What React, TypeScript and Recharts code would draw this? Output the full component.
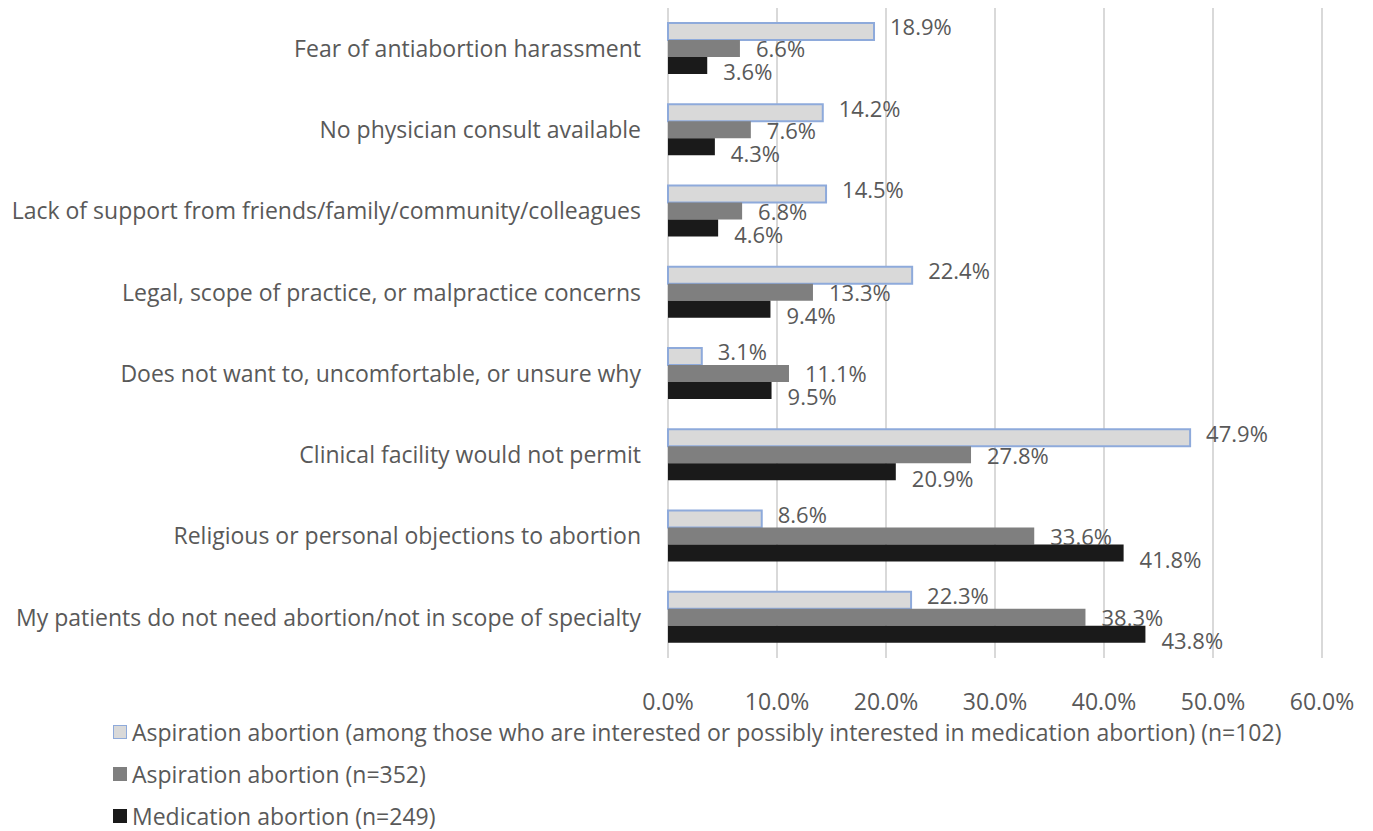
import { BarChart, Bar, XAxis, YAxis, CartesianGrid, Legend, LabelList } from 'recharts'

const categories = [
  'Fear of antiabortion harassment',
  'No physician consult available',
  'Lack of support from friends/family/community/colleagues',
  'Legal, scope of practice, or malpractice concerns',
  'Does not want to, uncomfortable, or unsure why ',
  'Clinical facility would not permit',
  'Religious or personal objections to abortion',
  'My patients do not need abortion/not in scope of specialty',
]

const aspirationInterested = [18.9, 14.2, 14.5, 22.4, 3.1, 47.9, 8.6, 22.3]
const aspiration = [6.6, 7.6, 6.8, 13.3, 11.1, 27.8, 33.6, 38.3]
const medication = [3.6, 4.3, 4.6, 9.4, 9.5, 20.9, 41.8, 43.8]

const xTicks = [0, 10, 20, 30, 40, 50, 60]

const seriesNames = [
  'Aspiration abortion (among those who are interested or possibly interested in medication abortion) (n=102)',
  'Aspiration abortion (n=352)',
  'Medication abortion (n=249)',
]

const data = categories.map((name, i) => ({
  name,
  a: aspirationInterested[i],
  b: aspiration[i],
  c: medication[i],
}))

const FONT = "'Open Sans', sans-serif"
const TEXT = '#595959'
const FS = 23

const swatches = [
  { fill: '#d9d9d9', stroke: '#8eaadb' },
  { fill: '#7f7f7f', stroke: '#7f7f7f' },
  { fill: '#1a1a1a', stroke: '#1a1a1a' },
]

function LegendBox() {
  return (
    <div style={{ height: 120, paddingLeft: 105, paddingTop: 8, fontFamily: FONT, fontSize: FS, color: TEXT }}>
      {seriesNames.map((s, i) => (
        <div key={s} style={{ display: 'flex', alignItems: 'center', height: 42, whiteSpace: 'nowrap' }}>
          <span
            style={{
              display: 'inline-block',
              width: 12,
              height: 12,
              background: swatches[i].fill,
              border: `1.5px solid ${swatches[i].stroke}`,
              marginRight: 5,
            }}
          />
          {s}
        </div>
      ))}
    </div>
  )
}

const pct = (v: number) => `${v.toFixed(1)}%`
const labelBase = { position: 'right' as const, offset: 16, fill: TEXT, fontSize: FS - 1, fontFamily: FONT, formatter: pct }

export default function App() {
  return (
    <BarChart
      width={1357}
      height={823}
      data={data}
      layout="vertical"
      margin={{ top: 0, right: 43, left: 0, bottom: 0 }}
      barGap={0}
      barSize={17}
    >
      <CartesianGrid horizontal={false} stroke="#d9d9d9" strokeWidth={2} />
      <XAxis
        type="number"
        domain={[0, 60]}
        ticks={xTicks}
        tickFormatter={pct}
        axisLine={false}
        tickLine={false}
        height={45}
        tick={{ fill: TEXT, fontSize: FS, fontFamily: FONT }}
        tickMargin={30}
      />
      <YAxis
        type="category"
        dataKey="name"
        width={660}
        axisLine={false}
        tickLine={false}
        tickSize={0}
        tickMargin={27}
        tick={{ fill: TEXT, fontSize: FS, fontFamily: FONT }}
        interval={0}
      />
      <Legend verticalAlign="bottom" content={() => <LegendBox />} />
      <Bar dataKey="a" fill="#d9d9d9" stroke="#8eaadb" strokeWidth={2} isAnimationActive={false}>
        <LabelList dataKey="a" {...labelBase} dy={-4} />
      </Bar>
      <Bar dataKey="b" fill="#7f7f7f" isAnimationActive={false}>
        <LabelList dataKey="b" {...labelBase} dy={1} />
      </Bar>
      <Bar dataKey="c" fill="#1a1a1a" isAnimationActive={false}>
        <LabelList dataKey="c" {...labelBase} dy={7} />
      </Bar>
    </BarChart>
  )
}
